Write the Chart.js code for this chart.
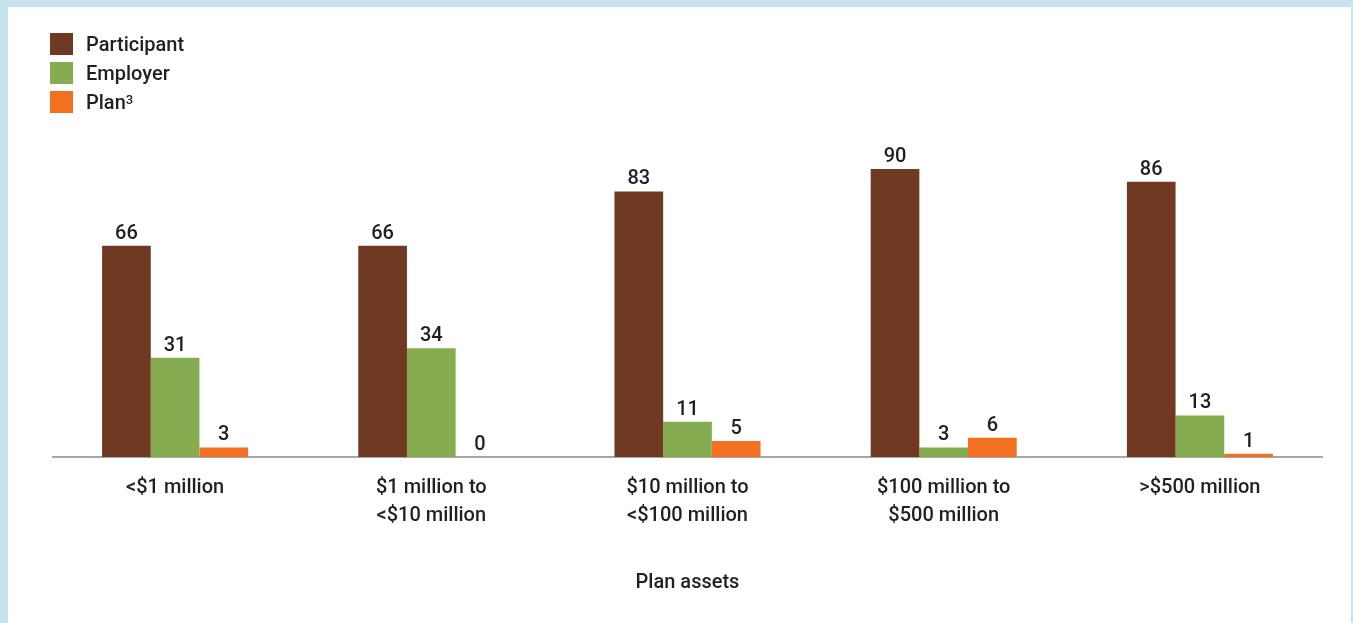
<!DOCTYPE html>
<html>
<head>
<meta charset="utf-8">
<script src="https://cdn.jsdelivr.net/npm/chart.js@4/dist/chart.umd.min.js"></script>
<style>
  html, body { margin: 0; padding: 0; }
  body { width: 1353px; height: 623px; background: #c7e3ef; position: relative; overflow: hidden; }
  #panel { position: absolute; left: 8px; top: 7px; width: 1343px; height: 616px; background: #fff; }
  #legend { position: absolute; left: 42px; top: 22px; font-family: Roboto, sans-serif; font-weight: 500; font-size: 20px; color: #231f20; }
  #legend div { display: flex; align-items: center; height: 29px; }
  #legend span.box { width: 23px; height: 22px; margin-right: 13px; display: inline-block; }
  #legend sup { font-size: 13px; line-height: 0; position: relative; top: -2px; }
</style>
</head>
<body>
<div id="panel">
  <canvas id="chart" width="1343" height="616"></canvas>
  <div id="legend"></div>
</div>
<script>
// データ
const categories = [
  ["<$1 million"],
  ["$1 million to", "<$10 million"],
  ["$10 million to", "<$100 million"],
  ["$100 million to", "$500 million"],
  [">$500 million"]
];
const seriesNames = ["Participant", "Employer", "Plan<sup>3</sup>"];
const participant = [66, 66, 83, 90, 86];
const employer = [31, 34, 11, 3, 13];
const plan = [3, 0, 5, 6, 1];
const colors = ["#6f3a21", "#86ac50", "#f47021"];

const textColor = "#231f20";
const fontFamily = "Roboto, sans-serif";

// 凡例（HTML）
const legend = document.getElementById("legend");
seriesNames.forEach((name, i) => {
  const row = document.createElement("div");
  row.innerHTML = '<span class="box" style="background:' + colors[i] + '"></span>' + name;
  legend.appendChild(row);
});

// 棒の上に数値を描く
const valueLabels = {
  id: "valueLabels",
  afterDatasetsDraw(chart) {
    const ctx = chart.ctx;
    ctx.save();
    ctx.font = "500 20px " + fontFamily;
    ctx.fillStyle = textColor;
    ctx.textAlign = "center";
    ctx.textBaseline = "alphabetic";
    chart.data.datasets.forEach((ds, di) => {
      chart.getDatasetMeta(di).data.forEach((bar, i) => {
        ctx.fillText(String(ds.data[i]), bar.x, bar.y - 7);
      });
    });
    ctx.restore();
  }
};

// 横軸の線（両端を少し内側に）
const baseLine = {
  id: "baseLine",
  beforeDatasetsDraw(chart) {
    const { ctx, chartArea } = chart;
    ctx.save();
    ctx.strokeStyle = "#a6a6a6";
    ctx.lineWidth = 2;
    ctx.beginPath();
    ctx.moveTo(chartArea.left + 5, chartArea.bottom);
    ctx.lineTo(chartArea.right - 5, chartArea.bottom);
    ctx.stroke();
    ctx.restore();
  }
};

const seriesData = [participant, employer, plan];

new Chart(document.getElementById("chart"), {
  type: "bar",
  data: {
    labels: categories,
    datasets: seriesNames.map((name, i) => ({
      label: name,
      data: seriesData[i],
      backgroundColor: colors[i],
      borderWidth: 0,
      categoryPercentage: 0.57,
      barPercentage: 1.0
    }))
  },
  options: {
    responsive: false,
    animation: false,
    layout: { padding: { left: 39, right: 23, top: 130, bottom: 0 } },
    plugins: {
      legend: { display: false },
      tooltip: { enabled: false }
    },
    scales: {
      x: {
        grid: { display: false, drawTicks: false },
        border: { display: false },
        ticks: {
          color: textColor,
          padding: 17,
          font: { family: fontFamily, size: 20, weight: 500, lineHeight: 1.4 },
          maxRotation: 0,
          autoSkip: false
        },
        title: {
          display: true,
          text: "Plan assets",
          color: textColor,
          font: { family: fontFamily, size: 20, weight: 500, lineHeight: 1.2 },
          padding: { top: 0, bottom: 28 }
        },
        afterFit(scale) { scale.height = 166; }
      },
      y: {
        display: false,
        min: 0,
        max: 100
      }
    }
  },
  plugins: [baseLine, valueLabels]
});
</script>
</body>
</html>
